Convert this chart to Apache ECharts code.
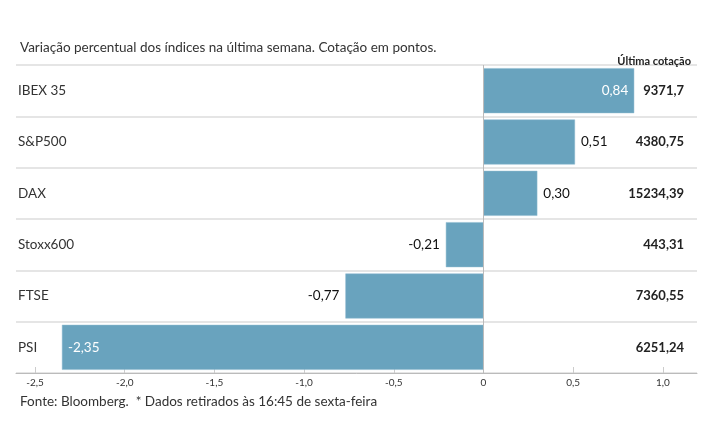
<!DOCTYPE html>
<html>
<head>
<meta charset="utf-8">
<script src="https://cdn.jsdelivr.net/npm/echarts@6/dist/echarts.min.js"></script>
<style>
  html, body { margin: 0; padding: 0; background: #fff; }
  #chart { width: 715px; height: 445px; }
</style>
</head>
<body>
<div id="chart"></div>
<script>
// dados
var categories = ["IBEX 35", "S&P500", "DAX", "Stoxx600", "FTSE", "PSI"];
var changes = [0.84, 0.51, 0.30, -0.21, -0.77, -2.35];
var lastQuotes = ["9371,7", "4380,75", "15234,39", "443,31", "7360,55", "6251,24"];
var tickValues = [-2.5, -2, -1.5, -1, -0.5, 0, 0.5, 1];
// rótulos dentro da barra (brancos)
var insideLabels = ["IBEX 35", "PSI"];

var barColor = "#69a3be";
var font = "Lato";

var chart = echarts.init(document.getElementById("chart"));

var barData = changes.map(function (v, i) {
  var inside = insideLabels.indexOf(categories[i]) >= 0;
  return {
    value: v,
    label: {
      position: inside ? (v >= 0 ? "insideRight" : "insideLeft") : (v >= 0 ? "right" : "left"),
      color: inside ? "#fff" : "#111"
    }
  };
});

chart.setOption({
  textStyle: { fontFamily: font },
  title: [
    {
      text: "Variação percentual dos índices na última semana. Cotação em pontos.",
      left: 15, top: 36,
      textStyle: { fontSize: 13.5, fontWeight: "normal", color: "#333", fontFamily: font }
    },
    {
      text: "Última cotação",
      right: 19, top: 51,
      textStyle: { fontSize: 11, fontWeight: "bold", color: "#222", fontFamily: font }
    },
    {
      text: "Fonte: Bloomberg.  * Dados retirados às 16:45 de sexta-feira",
      left: 15, top: 390,
      textStyle: { fontSize: 13.5, fontWeight: "normal", color: "#333", fontFamily: font }
    }
  ],
  grid: { left: 16, right: 18, top: 65, bottom: 72 },
  xAxis: {
    type: "value",
    min: -2.606,
    max: 1.19,
    axisLine: { show: true, lineStyle: { color: "#bbb" } },
    axisTick: { show: true, inside: true, length: 6, customValues: tickValues, lineStyle: { color: "#ccc" } },
    axisLabel: {
      customValues: tickValues,
      fontSize: 10, color: "#333", margin: 5,
      formatter: function (v) { return v === 0 ? "0" : v.toFixed(1).replace(".", ","); }
    },
    splitLine: { show: false }
  },
  yAxis: [
    {
      type: "category",
      data: categories,
      inverse: true,
      axisLine: { show: false },
      axisTick: { show: false },
      axisLabel: { inside: true, margin: 2, fontSize: 13.5, color: "#333" },
      splitLine: { show: true, lineStyle: { color: "#ddd", width: 1.5 } }
    },
    {
      type: "category",
      data: lastQuotes,
      inverse: true,
      position: "right",
      axisLine: { show: false },
      axisTick: { show: false },
      axisLabel: { inside: true, margin: 13, fontSize: 13, fontWeight: "bold", color: "#222" }
    }
  ],
  series: [
    {
      type: "bar",
      data: barData,
      barWidth: 45,
      itemStyle: { color: barColor, borderColor: "#8fbbd0", borderWidth: 0.5 },
      label: {
        show: true,
        fontSize: 13.5,
        distance: 6,
        formatter: function (p) { return p.value.toFixed(2).replace(".", ","); }
      },
      markLine: {
        silent: true,
        symbol: "none",
        label: { show: false },
        lineStyle: { color: "#bbb", type: "solid", width: 1 },
        data: [{ xAxis: 0 }]
      }
    }
  ]
});
</script>
</body>
</html>
